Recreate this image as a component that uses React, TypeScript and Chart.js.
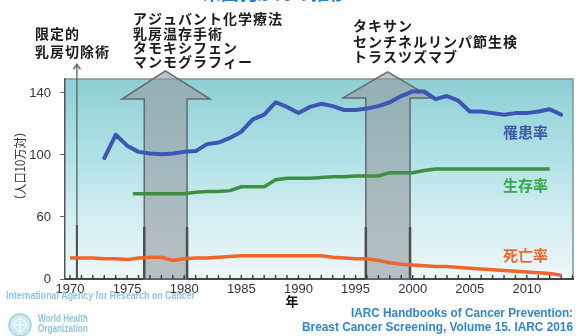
import React, { useEffect, useRef } from "react";
import { Chart, registerables } from "chart.js";

Chart.register(...registerables);

// Breast cancer trends: incidence, 5-year survival and mortality
const incidenceYears = [
  1973, 1974, 1975, 1976, 1977, 1978, 1979, 1980, 1981, 1982, 1983, 1984, 1985, 1986,
  1987, 1988, 1989, 1990, 1991, 1992, 1993, 1994, 1995, 1996, 1997, 1998, 1999, 2000,
  2001, 2002, 2003, 2004, 2005, 2006, 2007, 2008, 2009, 2010, 2011, 2012, 2013,
];
const incidence = [
  98, 113, 106, 102, 101, 100.5, 101, 102, 102.5, 107, 108, 111, 115, 123,
  126, 134, 131, 127, 131, 133, 131.5, 129, 129, 130, 131.5, 134, 138, 141,
  141, 136, 138, 135, 128, 128, 127, 126, 127, 127, 128, 129.5, 126,
];

const survivalYears = [
  1975.5, 1976, 1977, 1978, 1979, 1980, 1981, 1982, 1983, 1984, 1985, 1986, 1987, 1988,
  1989, 1990, 1991, 1992, 1993, 1994, 1995, 1996, 1997, 1998, 1999, 2000, 2001, 2002,
  2003, 2004, 2005, 2006, 2007, 2008, 2009, 2010, 2011, 2012,
];
const survival = [
  75, 75, 75, 75, 75, 75, 76, 76.5, 76.5, 77, 79.5, 79.5, 79.5, 84,
  85, 85, 85, 85.5, 86, 86, 86.5, 86.5, 86.5, 88.5, 88.5, 88.5, 90, 91,
  91, 91, 91, 91, 91, 91, 91, 91, 91, 91,
];

const mortalityYears = [
  1970, 1971, 1972, 1973, 1974, 1975, 1976, 1977, 1978, 1979, 1980, 1981, 1982, 1983,
  1984, 1985, 1986, 1987, 1988, 1989, 1990, 1991, 1992, 1993, 1994, 1995, 1996, 1997,
  1998, 1999, 2000, 2001, 2002, 2003, 2004, 2005, 2006, 2007, 2008, 2009, 2010, 2011,
  2012, 2013,
];
const mortality = [
  33.5, 33.5, 33.5, 33, 33, 32.5, 33.5, 34, 34, 32, 33, 33.5, 33.5, 34,
  34.5, 35, 35, 35, 35, 35, 35, 35, 35, 34, 33.5, 33, 33, 32,
  30.5, 29.5, 29, 28.5, 28, 28, 27.5, 27, 26.5, 26, 25.5, 25, 24.5, 24,
  23.5, 22.5,
];

// Broken value axis: the lowest tick stands for the axis origin
const yTickValues = [20, 60, 100, 140];
const yTickLabels = ["0", "60", "100", "140"];
const xTickYears = [1970, 1975, 1980, 1985, 1990, 1995, 2000, 2005, 2010];

const seriesNames = ["罹患率", "生存率", "死亡率"];
const milestoneEarly = ["限定的", "乳房切除術"];
const milestoneMid = ["アジュバント化学療法", "乳房温存手術", "タモキシフェン", "マンモグラフィー"];
const milestoneLate = ["タキサン", "センチネルリンパ節生検", "トラスツズマブ"];
const yAxisTitle = "（人口10万対）";
const xAxisTitle = "年";
const titleText = "米国乳がんの推移";
const sourceLines = [
  "IARC Handbooks of Cancer Prevention:",
  "Breast Cancer Screening, Volume 15. IARC 2016",
];
const agencyName = "International Agency for Research on Cancer";
const whoName = ["World Health", "Organization"];

const CJK = "'Noto Sans CJK JP', 'Noto Sans', sans-serif";
const LATIN = "'Liberation Sans', Arial, sans-serif";

const toPoints = (xs: number[], ys: number[]) => xs.map((x, i) => ({ x, y: ys[i] }));

// Wide block arrow marking a period of treatment changes
function drawBlockArrow(
  chart: any,
  shaftL: number,
  shaftR: number,
  headL: number,
  headR: number,
  tipX: number,
  headBaseV: number,
  tipV: number
) {
  const { ctx, scales, chartArea } = chart;
  const xs = scales.x;
  const ys = scales.y;
  const L = xs.getPixelForValue(shaftL);
  const R = xs.getPixelForValue(shaftR);
  const HL = xs.getPixelForValue(headL);
  const HR = xs.getPixelForValue(headR);
  const T = xs.getPixelForValue(tipX);
  const hb = ys.getPixelForValue(headBaseV);
  const tp = ys.getPixelForValue(tipV);
  const b = chartArea.bottom;
  ctx.save();
  ctx.beginPath();
  ctx.moveTo(L, b);
  ctx.lineTo(L, hb);
  ctx.lineTo(HL, hb);
  ctx.lineTo(T, tp);
  ctx.lineTo(HR, hb);
  ctx.lineTo(R, hb);
  ctx.lineTo(R, b);
  ctx.closePath();
  ctx.fillStyle = "rgba(150,156,162,0.62)";
  ctx.fill();
  ctx.strokeStyle = "#616a6e";
  ctx.lineWidth = 1.5;
  ctx.lineJoin = "miter";
  ctx.stroke();
  // darker lower edges of the shaft
  ctx.strokeStyle = "#4a4f52";
  ctx.lineWidth = 2.5;
  ctx.beginPath();
  ctx.moveTo(L, b);
  ctx.lineTo(L, b - 52);
  ctx.moveTo(R, b);
  ctx.lineTo(R, b - 52);
  ctx.stroke();
  ctx.restore();
}

const decorPlugin = {
  id: "decor",
  beforeDraw(chart: any) {
    const { ctx, chartArea: a } = chart;
    ctx.save();
    const g = ctx.createLinearGradient(0, a.top, 0, a.bottom);
    g.addColorStop(0, "#8dcfd4");
    g.addColorStop(0.35, "#ace0e4");
    g.addColorStop(0.7, "#d4eef1");
    g.addColorStop(1, "#eef7f9");
    ctx.fillStyle = g;
    ctx.fillRect(a.left, a.top, a.right - a.left, a.bottom - a.top);
    ctx.strokeStyle = "#7f9597";
    ctx.lineWidth = 1.5;
    ctx.beginPath();
    ctx.moveTo(a.left, a.top);
    ctx.lineTo(a.right, a.top);
    ctx.lineTo(a.right, a.bottom);
    ctx.stroke();
    ctx.restore();
  },
  beforeDatasetsDraw(chart: any) {
    const { ctx, chartArea: a, scales } = chart;
    const xs = scales.x;
    const ys = scales.y;

    // thin arrow for radical mastectomy era
    const tx = xs.getPixelForValue(1970.6);
    const tTop = ys.getPixelForValue(158.5);
    ctx.save();
    ctx.strokeStyle = "#5d6a6e";
    ctx.lineWidth = 1.4;
    ctx.beginPath();
    ctx.moveTo(tx, a.bottom);
    ctx.lineTo(tx, tTop);
    ctx.stroke();
    ctx.beginPath();
    ctx.moveTo(tx - 3.5, tTop + 5);
    ctx.lineTo(tx, tTop);
    ctx.lineTo(tx + 3.5, tTop + 5);
    ctx.stroke();
    ctx.strokeStyle = "#4a4f52";
    ctx.lineWidth = 2;
    ctx.beginPath();
    ctx.moveTo(tx, a.bottom);
    ctx.lineTo(tx, a.bottom - 54);
    ctx.stroke();
    ctx.restore();

    drawBlockArrow(chart, 1976.5, 1980.25, 1974.55, 1982.26, 1978.35, 136.1, 154.2);
    drawBlockArrow(chart, 1995.9, 1999.77, 1993.9, 2001.7, 1997.8, 136.8, 153.6);

    // yearly tick marks along the time axis
    ctx.save();
    ctx.strokeStyle = "#3a3a3a";
    ctx.lineWidth = 1.4;
    ctx.beginPath();
    for (let yr = Math.ceil(xs.min); yr <= xs.max; yr++) {
      const px = xs.getPixelForValue(yr);
      ctx.moveTo(px, a.bottom);
      ctx.lineTo(px, a.bottom - 4);
    }
    ctx.stroke();
    ctx.restore();
  },
  afterDraw(chart: any) {
    const { ctx } = chart;
    ctx.save();

    // title (runs off the top edge)
    ctx.fillStyle = "#2f7fcf";
    ctx.font = `bold 18px ${CJK}`;
    ctx.textAlign = "center";
    ctx.textBaseline = "bottom";
    ctx.fillText(titleText, 275, 2);

    // treatment milestones
    ctx.fillStyle = "#1a1a1a";
    ctx.font = `bold 14px ${CJK}`;
    (ctx as any).letterSpacing = "1px";
    ctx.textAlign = "left";
    ctx.textBaseline = "middle";
    const early = [34, 52];
    milestoneEarly.forEach((t, i) => ctx.fillText(t, 35, early[i]));
    const mid = [19, 34, 48, 62];
    milestoneMid.forEach((t, i) => ctx.fillText(t, 133, mid[i]));
    const late = [26, 42, 57];
    milestoneLate.forEach((t, i) => ctx.fillText(t, 353, late[i]));
    (ctx as any).letterSpacing = "0px";

    // series labels
    const labelColors = ["#3c56a8", "#36a84a", "#f0652e"];
    const labelY = [132, 185, 255];
    ctx.font = `bold 15px ${CJK}`;
    seriesNames.forEach((t, i) => {
      ctx.fillStyle = labelColors[i];
      ctx.fillText(t, 503, labelY[i]);
    });

    // y axis title (rotated)
    ctx.save();
    ctx.translate(20, 166);
    ctx.rotate(-Math.PI / 2);
    ctx.fillStyle = "#333";
    ctx.font = `12.5px ${CJK}`;
    ctx.textAlign = "center";
    ctx.fillText(yAxisTitle, 0, 0, 80);
    ctx.restore();

    // x axis title
    ctx.fillStyle = "#111";
    ctx.font = `bold 13px ${CJK}`;
    ctx.textAlign = "center";
    ctx.fillText(xAxisTitle, 292, 301);

    // source note
    ctx.fillStyle = "#2e86cc";
    ctx.font = `bold 12px ${LATIN}`;
    ctx.textAlign = "right";
    ctx.fillText(sourceLines[0], 573, 314, 222);
    ctx.fillText(sourceLines[1], 573, 328, 271);

    // agency credits
    ctx.fillStyle = "#8ec6df";
    ctx.font = `bold 11px ${LATIN}`;
    ctx.textAlign = "left";
    ctx.fillText(agencyName, 6, 296, 189);
    ctx.font = `bold 10px ${LATIN}`;
    ctx.fillText(whoName[0], 38, 319, 50);
    ctx.fillText(whoName[1], 38, 329, 50);

    // emblem
    ctx.strokeStyle = "#9fd0e6";
    ctx.fillStyle = "rgba(170,215,235,0.55)";
    ctx.lineWidth = 1.5;
    ctx.beginPath();
    ctx.arc(20, 325, 11, 0, Math.PI * 2);
    ctx.fill();
    ctx.stroke();
    ctx.strokeStyle = "#ffffff";
    ctx.lineWidth = 1;
    ctx.beginPath();
    ctx.arc(20, 325, 6, 0, Math.PI * 2);
    ctx.moveTo(20, 317);
    ctx.lineTo(20, 333);
    ctx.moveTo(13, 325);
    ctx.lineTo(27, 325);
    ctx.stroke();

    ctx.restore();
  },
};

export default function App() {
  const canvasRef = useRef<HTMLCanvasElement | null>(null);

  useEffect(() => {
    if (!canvasRef.current) return;
    Chart.defaults.font.family = LATIN;
    const chart = new Chart(canvasRef.current, {
      type: "line",
      data: {
        datasets: [
          {
            label: seriesNames[0],
            data: toPoints(incidenceYears, incidence),
            borderColor: "#3d55b4",
            borderWidth: 4,
            pointRadius: 0,
            tension: 0,
            borderJoinStyle: "round",
            borderCapStyle: "round",
          },
          {
            label: seriesNames[1],
            data: toPoints(survivalYears, survival),
            borderColor: "#3f8f42",
            borderWidth: 3.5,
            pointRadius: 0,
            tension: 0,
            borderJoinStyle: "round",
          },
          {
            label: seriesNames[2],
            data: toPoints(mortalityYears, mortality),
            borderColor: "#f0642e",
            borderWidth: 3.5,
            pointRadius: 0,
            tension: 0,
            borderJoinStyle: "round",
          },
        ],
      },
      options: {
        responsive: false,
        animation: false,
        layout: { padding: { left: 0, top: 79, right: 3, bottom: 37 } },
        plugins: { legend: { display: false }, tooltip: { enabled: false } },
        scales: {
          x: {
            type: "linear",
            min: 1969.56,
            max: 2014.04,
            afterBuildTicks: (s: any) => {
              s.ticks = xTickYears.map((v) => ({ value: v }));
            },
            afterFit: (s: any) => {
              s.height = 20;
            },
            ticks: {
              autoSkip: false,
              maxRotation: 0,
              padding: 3,
              color: "#333",
              font: { size: 13 },
              callback: (v: any) => String(v),
            },
            grid: { drawOnChartArea: false, drawTicks: false },
            border: { display: true, color: "#444", width: 2 },
          },
          y: {
            type: "linear",
            min: 20,
            max: 149,
            afterBuildTicks: (s: any) => {
              s.ticks = yTickValues.map((v) => ({ value: v }));
            },
            afterFit: (s: any) => {
              s.width = 65;
            },
            ticks: {
              autoSkip: false,
              padding: 9,
              color: "#333",
              font: { size: 13 },
              callback: (v: any) => yTickLabels[yTickValues.indexOf(Number(v))] ?? "",
            },
            grid: { drawOnChartArea: false, drawTicks: true, tickLength: 5, color: "#666" },
            border: { display: true, color: "#555", width: 1.5 },
          },
        },
      },
      plugins: [decorPlugin],
    } as any);
    return () => chart.destroy();
  }, []);

  return (
    <div style={{ position: "fixed", left: 0, top: 0, width: 576, height: 336, background: "#fff" }}>
      <canvas ref={canvasRef} width={576} height={336} style={{ display: "block" }} />
    </div>
  );
}
